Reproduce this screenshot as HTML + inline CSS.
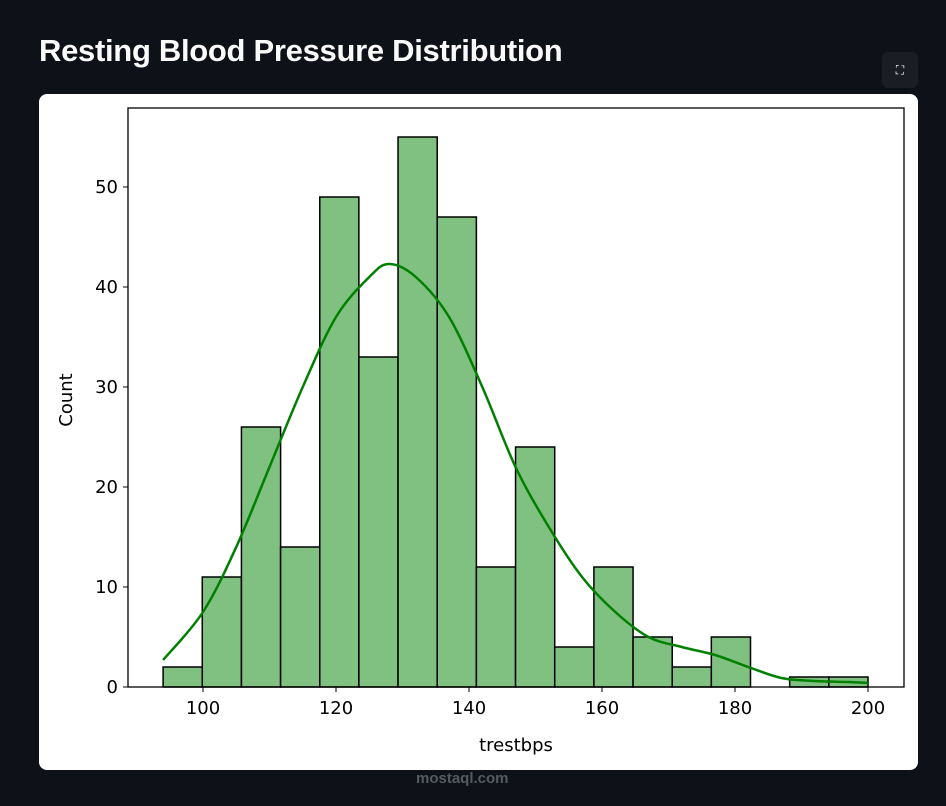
<!DOCTYPE html>
<html><head><meta charset="utf-8">
<style>
body{margin:0;width:946px;height:806px;background:#0e1117;overflow:hidden;font-family:"Liberation Sans",sans-serif;position:relative}
#title{position:absolute;left:39px;top:33px;color:#fafafa;font-size:31px;font-weight:bold;letter-spacing:-0.3px}
#fs{position:absolute;left:882px;top:52px;width:36px;height:36px;border-radius:6px;background:#1a1d24;color:#fff;font-size:12px;display:flex;align-items:center;justify-content:center}
#card{position:absolute;left:39px;top:94px;width:879px;height:676px;background:#fff;border-radius:8px}
svg{position:absolute;left:0;top:0}
#wm{position:absolute;left:416px;top:770px;color:#555a62;font-size:15px;font-weight:bold}
</style></head><body>
<div id="title">Resting Blood Pressure Distribution</div>
<div id="fs">⛶</div>
<div id="card"></div>
<div id="wm">mostaql.com</div>
<svg id="chart" width="946" height="806"></svg>
<script>
const binEdges=[94,99.89,105.78,111.67,117.56,123.44,129.33,135.22,141.11,147,152.89,158.78,164.67,170.56,176.44,182.33,188.22,194.11,200];
const counts=[2,11,26,14,49,33,55,47,12,24,4,12,5,2,5,0,1,1];
const kdeX=[94,100,105,110,115,120,125,128,132,137,142,147,152,157,162,167,172,177,182,187,192,197,200];
const kdeY=[2.7,7.5,14,22,30,37,41,42.3,41,37,30,22,16,11,7.5,5,4,3.2,2,0.9,0.6,0.5,0.4];
const xTicks=[100,120,140,160,180,200];
const yTicks=[0,10,20,30,40,50];
const NS='http://www.w3.org/2000/svg';
const svg=document.getElementById('chart');
const L=128,R=904,T=108,B=687;
const sx=v=>203+(v-100)*6.65;
const sy=v=>B-v*10;
function el(t,a,p){const e=document.createElementNS(NS,t);for(const k in a)e.setAttribute(k,a[k]);(p||svg).appendChild(e);return e;}
counts.forEach((c,i)=>{if(c<=0)return;
 const r=el('rect',{x:sx(binEdges[i]),y:sy(c),width:sx(binEdges[i+1])-sx(binEdges[i]),height:sy(0)-sy(c),fill:'#80c080',stroke:'#000','stroke-width':1.5});
 
 
});
const P=kdeX.map((x,i)=>[sx(x),sy(kdeY[i])]);
let d='M'+P[0][0]+','+P[0][1];
for(let i=0;i<P.length-1;i++){const p0=P[Math.max(0,i-1)],p1=P[i],p2=P[i+1],p3=P[Math.min(P.length-1,i+2)];
 d+=`C${p1[0]+(p2[0]-p0[0])/6},${p1[1]+(p2[1]-p0[1])/6} ${p2[0]-(p3[0]-p1[0])/6},${p2[1]-(p3[1]-p1[1])/6} ${p2[0]},${p2[1]}`;}
const line=el('path',{d:d,fill:'none',stroke:'#008000','stroke-width':2.5,'stroke-linejoin':'round'});


const fr=el('rect',{x:L,y:T,width:R-L,height:B-T,fill:'none',stroke:'#000','stroke-width':1.3});


xTicks.forEach(v=>{el('line',{x1:sx(v),x2:sx(v),y1:B,y2:B+5,stroke:'#000'});
 const t=el('text',{x:sx(v),y:B+27,'text-anchor':'middle','font-size':18,'font-family':'DejaVu Sans, sans-serif'});t.textContent=v;
 
 });
yTicks.forEach(v=>{el('line',{x1:L-5,x2:L,y1:sy(v),y2:sy(v),stroke:'#000'});
 const t=el('text',{x:L-10,y:sy(v)+6,'text-anchor':'end','font-size':18,'font-family':'DejaVu Sans, sans-serif'});t.textContent=v;
 
 });
const xt=el('text',{x:516,y:751,'text-anchor':'middle','font-size':18,'font-family':'DejaVu Sans, sans-serif'});xt.textContent='trestbps';


const yt=el('text',{x:72,y:400,'text-anchor':'middle','font-size':18,'font-family':'DejaVu Sans, sans-serif',transform:'rotate(-90 72 400)'});yt.textContent='Count';


</script>
</body></html>
